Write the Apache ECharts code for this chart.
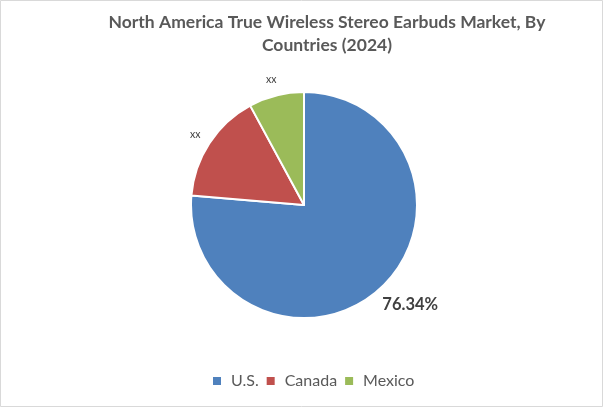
<!DOCTYPE html>
<html><head><meta charset="utf-8">
<script src="https://cdn.jsdelivr.net/npm/echarts@6/dist/echarts.min.js"></script>
<style>html,body{margin:0;padding:0;background:#fff}#c{width:603px;height:407px}</style>
</head><body><div id="c"></div>
<script>
var countries = ['U.S.', 'Canada', 'Mexico'];
var shares = [76.34, 15.76, 7.90];
var sliceLabels = ['76.34%', 'xx', 'xx'];
var colors = ['#4F81BD', '#C0504D', '#9BBB59'];

var chart = echarts.init(document.getElementById('c'), null, {renderer: 'canvas'});
var data = countries.map(function (n, i) {
  var big = i === 0;
  return {
    name: n, value: shares[i],
    itemStyle: {color: colors[i]},
    label: big ? {fontSize: 16.5, fontWeight: 'bold', color: '#404040'} : {fontSize: 10.5, color: '#404040'},
    labelLine: big ? {show: false, length: 22, length2: -18} : {show: false, length: 16, length2: (i === 1 ? -9.5 : -9.2)}
  };
});
chart.setOption({
  backgroundColor: '#fff',
  title: {
    text: 'North America True Wireless Stereo Earbuds Market, By\nCountries (2024)',
    left: 322, textAlign: 'center', top: 6,
    textStyle: {fontFamily: 'Lato', fontSize: 17.5, fontWeight: 'bold', color: '#595959', lineHeight: 23}
  },
  legend: {
    data: countries, top: 373, left: 211, padding: 0,
    itemWidth: 10, itemHeight: 10, itemGap: 6, icon: 'rect',
    textStyle: {fontFamily: 'Lato', fontSize: 16, color: '#595959', padding: [0, 0, 0, 4]}
  },
  graphic: [{type: 'rect', shape: {x: 0.5, y: 0.5, width: 602, height: 406}, style: {fill: 'none', stroke: '#d9d9d9', lineWidth: 1}, silent: true}],
  series: [{
    type: 'pie', center: [304, 205], radius: 113, startAngle: 90, clockwise: true,
    avoidLabelOverlap: false,
    itemStyle: {borderColor: '#fff', borderWidth: 2},
    label: {show: true, position: 'outside', fontFamily: 'Lato', distanceToLabelLine: 5,
      formatter: function (p) { return sliceLabels[p.dataIndex]; }},
    labelLine: {show: false},
    emphasis: {disabled: true},
    data: data
  }]
});
</script></body></html>
